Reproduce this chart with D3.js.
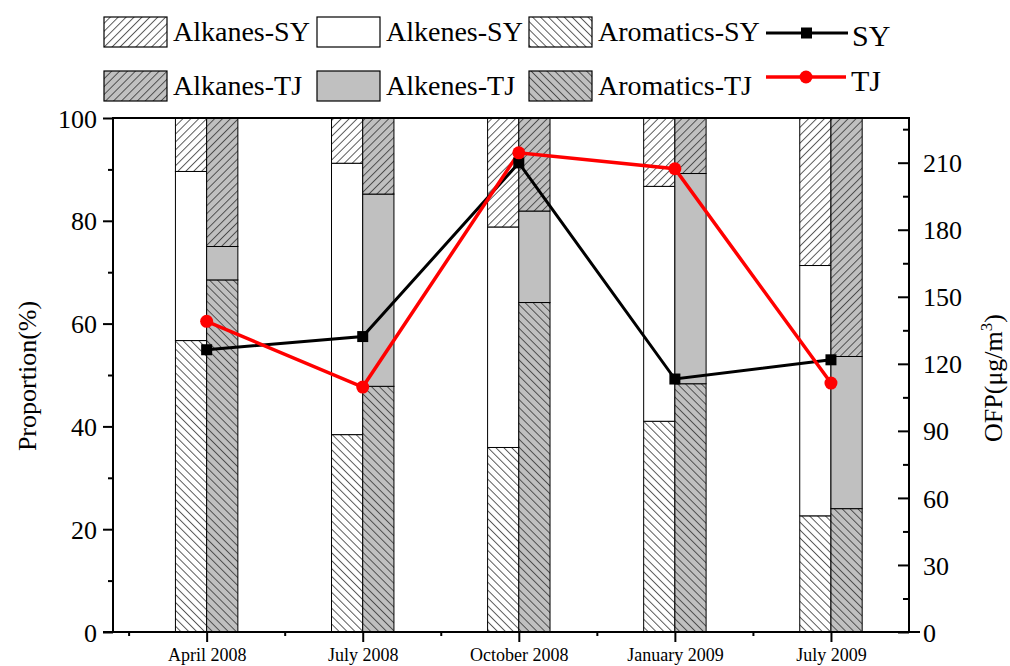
<!DOCTYPE html>
<html><head><meta charset="utf-8">
<script src="https://cdn.jsdelivr.net/npm/d3@7/dist/d3.min.js"></script>
<style>body{margin:0;background:#fff}svg{display:block}text{font-family:"Liberation Serif","Times New Roman",serif;fill:#000}</style>
</head><body><svg id="c" width="1010" height="666"></svg>
<script>
const categories = ["April 2008","July 2008","October 2008","January 2009","July 2009"];
const alkanesSY   = [10.4, 8.8, 21.2, 13.3, 28.7];
const alkenesSY   = [32.9, 52.8, 42.9, 45.7, 48.7];
const aromaticsSY = [56.7, 38.4, 35.9, 41.0, 22.6];
const alkanesTJ   = [25.0, 14.8, 18.1, 10.8, 46.4];
const alkenesTJ   = [6.5, 37.4, 17.8, 40.9, 29.6];
const aromaticsTJ = [68.5, 47.8, 64.1, 48.3, 24.0];
const ofpSY = [126.3, 132.2, 209.9, 113.2, 121.8];
const ofpTJ = [139.0, 109.6, 214.4, 207.3, 111.4];
const leftTicks = [0,20,40,60,80,100];
const rightTicks = [0,30,60,90,120,150,180,210];

const L=113,R=909,T=118,B=632;
const svg=d3.select("#c");
const x=d3.scaleLinear().domain([0.4,5.5]).range([L,R]);
const y=d3.scaleLinear().domain([0,100]).range([B,T]);
const y2=d3.scaleLinear().domain([0,230]).range([B,T]);
const gray="#c0c0c0";

const defs=svg.append("defs");
function hatch(id,bg,angle){
  const p=defs.append("pattern").attr("id",id).attr("patternUnits","userSpaceOnUse")
    .attr("width",5.6).attr("height",5.6).attr("patternTransform",`rotate(${angle})`);
  p.append("rect").attr("width",5.6).attr("height",5.6).attr("fill",bg);
  p.append("line").attr("x1",0.5).attr("x2",0.5).attr("y1",-1).attr("y2",7).attr("stroke","#333").attr("stroke-width",0.8);
}
hatch("alkSY","#fff",45);hatch("aroSY","#fff",-45);
hatch("alkTJ",gray,45);hatch("aroTJ",gray,-45);

const fills={aroSY:"url(#aroSY)",alkeSY:"#fff",alkSY:"url(#alkSY)",aroTJ:"url(#aroTJ)",alkeTJ:gray,alkTJ:"url(#alkTJ)"};
const gb=svg.append("g");
categories.forEach((c,i)=>{
  const xi=i+1;
  const stacks=[
    {off:-0.2,parts:[[aromaticsSY[i],fills.aroSY],[alkenesSY[i],fills.alkeSY],[alkanesSY[i],fills.alkSY]]},
    {off:0,parts:[[aromaticsTJ[i],fills.aroTJ],[alkenesTJ[i],fills.alkeTJ],[alkanesTJ[i],fills.alkTJ]]}
  ];
  stacks.forEach(s=>{
    let base=0;
    s.parts.forEach(([v,f])=>{
      gb.append("rect").attr("x",x(xi+s.off)).attr("width",x(xi+s.off+0.2)-x(xi+s.off))
        .attr("y",y(Math.min(100,base+v))).attr("height",y(base)-y(Math.min(100,base+v)))
        .attr("fill",f).attr("stroke","#000").attr("stroke-width",1);
      base+=v;
    });
  });
});

// lines
const line=d3.line().x((d,i)=>x(i+1)).y(d=>y2(d));
svg.append("path").attr("d",line(ofpSY)).attr("fill","none").attr("stroke","#000").attr("stroke-width",3);
svg.append("path").attr("d",line(ofpTJ)).attr("fill","none").attr("stroke","#f00").attr("stroke-width",3.5);
svg.selectAll(".sq").data(ofpSY).enter().append("rect").attr("x",(d,i)=>x(i+1)-5.5).attr("y",d=>y2(d)-5.5)
  .attr("width",11).attr("height",11).attr("fill","#000");
svg.selectAll(".ci").data(ofpTJ).enter().append("circle").attr("cx",(d,i)=>x(i+1)).attr("cy",d=>y2(d))
  .attr("r",6.5).attr("fill","#f00");

// axes
const ax=svg.append("g");
ax.append("line").attr("x1",L).attr("x2",R).attr("y1",T).attr("y2",T).attr("stroke","#000").attr("stroke-width",2);
ax.append("line").attr("x1",103).attr("x2",920).attr("y1",B).attr("y2",B).attr("stroke","#000").attr("stroke-width",2);
ax.append("line").attr("x1",L).attr("x2",L).attr("y1",T-1).attr("y2",B).attr("stroke","#000").attr("stroke-width",2);
ax.append("line").attr("x1",R).attr("x2",R).attr("y1",T-1).attr("y2",B).attr("stroke","#000").attr("stroke-width",2);

const gl=ax.append("g").attr("transform",`translate(${L},0)`)
  .call(d3.axisLeft(y).tickValues(leftTicks).tickSize(10).tickPadding(6));
const glm=ax.append("g").attr("transform",`translate(${L},0)`)
  .call(d3.axisLeft(y).tickValues(d3.range(10,100,20)).tickSize(5).tickFormat(""));
const gr=ax.append("g").attr("transform",`translate(${R},0)`)
  .call(d3.axisRight(y2).tickValues(rightTicks).tickSize(-11).tickPadding(14));
const grm=ax.append("g").attr("transform",`translate(${R},0)`)
  .call(d3.axisRight(y2).tickValues(d3.range(15,230,30)).tickSize(-6).tickFormat(""));
const gx=ax.append("g").attr("transform",`translate(0,${B})`)
  .call(d3.axisBottom(x).tickValues([1,2,3,4,5]).tickSize(10).tickFormat(d=>categories[d-1]));
const gxm=ax.append("g").attr("transform",`translate(0,${B})`)
  .call(d3.axisBottom(x).tickValues([0.5,1.5,2.5,3.5,4.5]).tickSize(4).tickFormat(""));
[gl,glm,gr,grm,gx,gxm].forEach(g=>{g.select(".domain").remove();g.selectAll(".tick line").attr("stroke","#000").attr("stroke-width",2);});
gl.selectAll("text").attr("font-size",26).attr("font-family","Liberation Serif").attr("dy","0.35em");
gr.selectAll("text").attr("font-size",26).attr("font-family","Liberation Serif").attr("dy","0.35em");
gx.selectAll("text").attr("font-size",18).attr("font-family","Liberation Serif").attr("y",29).attr("dy",0);

// titles
svg.append("text").attr("transform","translate(36,376) rotate(-90)").attr("text-anchor","middle")
  .attr("font-size",26).text("Proportion(%)");
const rt=svg.append("text").attr("transform","translate(1002,378) rotate(-90)").attr("text-anchor","middle").attr("font-size",26);
rt.append("tspan").text("OFP(μg/m");
rt.append("tspan").attr("font-size",17).attr("dy",-10).text("3");
rt.append("tspan").attr("dy",10).text(")");

// legend
const lg=svg.append("g");
const boxes=[
  {x:104,y:17,f:fills.alkSY,t:"Alkanes-SY"},{x:317,y:17,f:fills.alkeSY,t:"Alkenes-SY"},{x:529,y:17,f:fills.aroSY,t:"Aromatics-SY"},
  {x:104,y:71,f:fills.alkTJ,t:"Alkanes-TJ"},{x:317,y:71,f:fills.alkeTJ,t:"Alkenes-TJ"},{x:529,y:71,f:fills.aroTJ,t:"Aromatics-TJ"}
];
boxes.forEach(b=>{
  lg.append("rect").attr("x",b.x).attr("y",b.y).attr("width",63).attr("height",30).attr("fill",b.f).attr("stroke","#000").attr("stroke-width",1.2);
  lg.append("text").attr("x",b.x+69).attr("y",b.y+24).attr("font-size",28).text(b.t);
});
lg.append("line").attr("x1",766).attr("x2",848).attr("y1",33).attr("y2",33).attr("stroke","#000").attr("stroke-width",3);
lg.append("rect").attr("x",801).attr("y",27.5).attr("width",11).attr("height",11).attr("fill","#000");
lg.append("text").attr("x",852).attr("y",46).attr("font-size",30).text("SY");
lg.append("line").attr("x1",766).attr("x2",846).attr("y1",77).attr("y2",77).attr("stroke","#f00").attr("stroke-width",3.5);
lg.append("circle").attr("cx",806).attr("cy",77).attr("r",6.5).attr("fill","#f00");
lg.append("text").attr("x",851).attr("y",91).attr("font-size",30).text("TJ");
</script></body></html>
